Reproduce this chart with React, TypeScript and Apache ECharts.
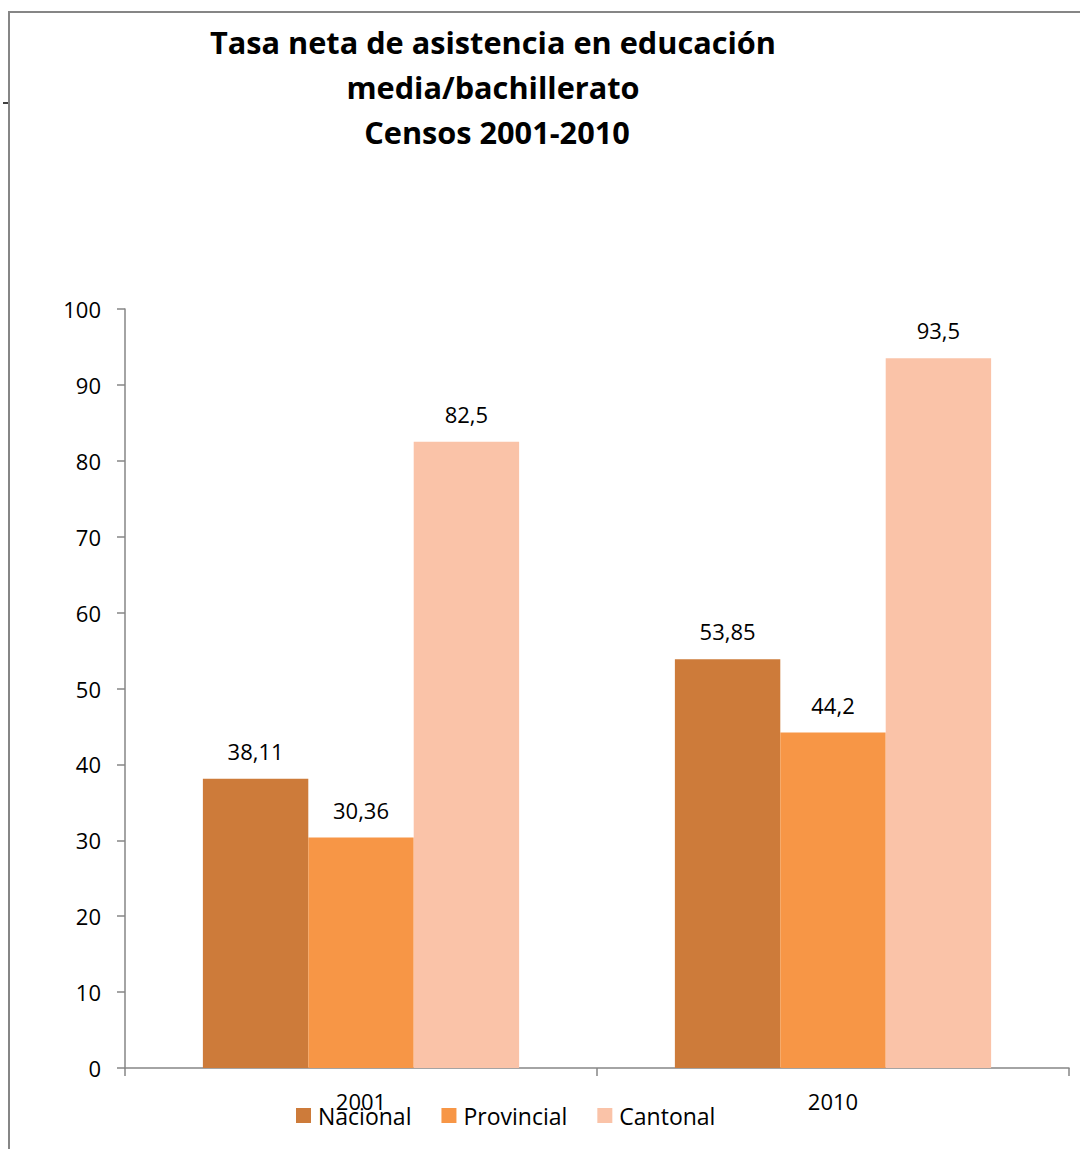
import React, { useEffect, useRef } from "react";
import * as echarts from "echarts";

const categories = ["2001", "2010"];
const seriesNames = ["Nacional", "Provincial", "Cantonal"];
const nacional = [38.11, 53.85];
const provincial = [30.36, 44.2];
const cantonal = [82.5, 93.5];
const colors = ["#CD7B3A", "#F79646", "#FAC3A8"];
const titleText = "Tasa neta de asistencia en educación\nmedia/bachillerato\n Censos 2001-2010";

const FONT = "'Open Sans', 'Noto Sans', sans-serif";

export default function App() {
  const ref = useRef<HTMLDivElement>(null);
  useEffect(() => {
    if (!ref.current) return;
    const chart = echarts.init(ref.current, null, { renderer: "svg" });
    const dataSets = [nacional, provincial, cantonal];
    const labelFmt = (p: any) => String(p.value).replace(".", ",");
    chart.setOption({
      animation: false,
      backgroundColor: "#ffffff",
      textStyle: { fontFamily: FONT },
      title: {
        text: titleText,
        left: 488,
        top: 14,
        textAlign: "center",
        textStyle: {
          fontFamily: FONT,
          fontWeight: "bold",
          fontSize: 30.7,
          lineHeight: 45,
          color: "#000000",
        },
      },
      legend: {
        data: seriesNames,
        left: 296,
        top: 1104,
        padding: 0,
        itemWidth: 15,
        itemHeight: 15,
        itemGap: 30,
        icon: "rect",
        textStyle: { fontFamily: FONT, fontSize: 23, color: "#000000", padding: [0, 0, 0, 2] },
      },
      grid: { left: 125, right: 11, top: 309, bottom: 81, containLabel: false },
      xAxis: {
        type: "category",
        data: categories,
        boundaryGap: true,
        axisLine: { lineStyle: { color: "#868686", width: 1.5 } },
        axisTick: { show: true, alignWithLabel: false, length: 8, lineStyle: { color: "#868686", width: 1.5 } },
        axisLabel: { fontFamily: FONT, fontSize: 22, color: "#000000", margin: 22 },
      },
      yAxis: {
        type: "value",
        min: 0,
        max: 100,
        interval: 10,
        splitLine: { show: false },
        axisLine: { show: true, lineStyle: { color: "#868686", width: 1.5 } },
        axisTick: { show: true, length: 8, lineStyle: { color: "#868686", width: 1.5 } },
        axisLabel: { fontFamily: FONT, fontSize: 22, color: "#000000", margin: 24 },
      },
      graphic: [
        {
          type: "rect",
          shape: { x: 9, y: 12, width: 1200, height: 1300 },
          style: { fill: "none", stroke: "#868686", lineWidth: 2 },
          silent: true,
          z: 100,
        },
        {
          type: "line",
          shape: { x1: 3, y1: 103, x2: 9, y2: 103 },
          style: { stroke: "#000000", lineWidth: 1.5 },
          silent: true,
        },
      ],
      series: seriesNames.map((name, i) => ({
        name,
        type: "bar",
        data: dataSets[i],
        barGap: "0%",
        barCategoryGap: "33%",
        itemStyle: { color: colors[i] },
        label: {
          show: true,
          position: "top",
          distance: 17,
          formatter: labelFmt,
          fontFamily: FONT,
          fontSize: 22,
          color: "#000000",
        },
      })),
    });
    return () => chart.dispose();
  }, []);
  return (
    <div
      ref={ref}
      style={{ position: "fixed", left: 0, top: 0, width: 1080, height: 1149 }}
    />
  );
}
